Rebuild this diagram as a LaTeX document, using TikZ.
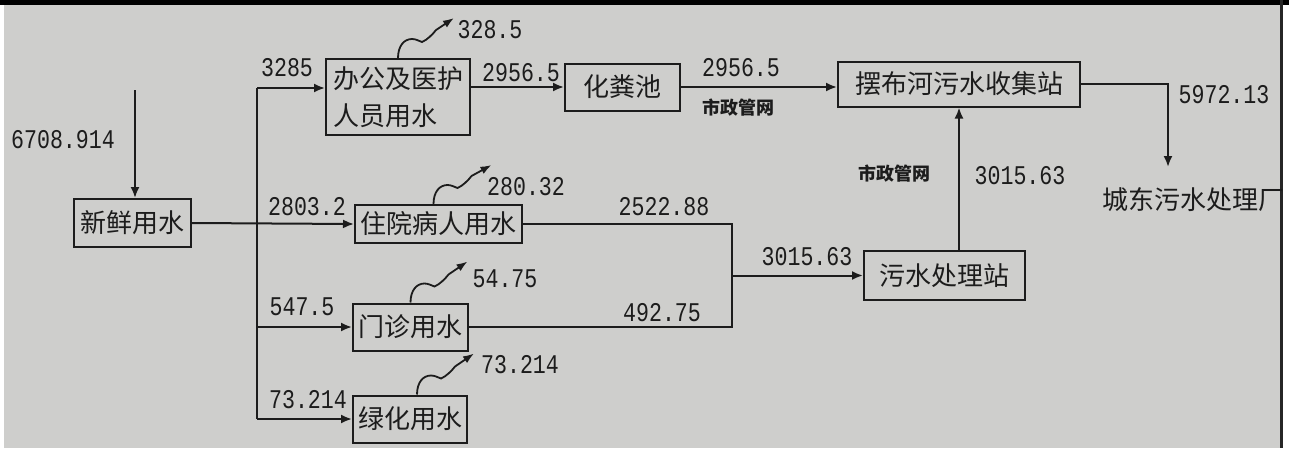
\documentclass[tikz,border=0pt]{standalone}
\usepackage{fontspec}
\newfontfamily\cjk{Noto Sans CJK SC}
\newfontfamily\numfont[FakeStretch=0.8]{Liberation Mono}
\usetikzlibrary{arrows.meta,calc}
\definecolor{paper}{RGB}{206,206,204}
\definecolor{ink}{RGB}{28,28,28}
\begin{document}
\begin{tikzpicture}[x=1pt,y=-1pt,
  box/.style={draw=ink,line width=2pt,inner sep=0pt,text=ink,font=\cjk\fontsize{26}{30}\selectfont},
  plain/.style={inner sep=0pt,text=ink,font=\cjk\fontsize{26}{30}\selectfont},
  num/.style={inner sep=0pt,text=ink,font=\numfont\fontsize{27}{30}\selectfont},
  net/.style={inner sep=0pt,text=ink,font=\cjk\bfseries\fontsize{18}{20}\selectfont},
  flow/.style={draw=ink,line width=2pt,-{Latex[length=11pt,width=9pt]}},
  pipe/.style={draw=ink,line width=2pt},
  wav/.style={draw=ink,line width=1.8pt,-{Latex[length=11pt,width=8pt]}},
]
\useasboundingbox (0,0) rectangle (1289,448);
\fill[white] (0,0) rectangle (1289,448);
\fill[paper] (4,5) rectangle (1281,448);
\fill[black] (0,0) rectangle (1289,5);
\fill[black!85] (1280,0) rectangle (1283,448);

% boxes
\node[box,minimum width=117pt,minimum height=48pt] (fresh) at (132.5,223) {新鲜用水};
\node[box,minimum width=144pt,minimum height=76pt,align=left,font=\cjk\fontsize{26}{37}\selectfont] (office) at (398,97) {办公及医护\\人员用水};
\node[box,minimum width=115pt,minimum height=47pt] (septic) at (622.5,87) {化粪池};
\node[box,minimum width=242pt,minimum height=45pt] (collect) at (959,84) {摆布河污水收集站};
\node[box,minimum width=167pt,minimum height=38pt] (inpatient) at (438.5,224) {住院病人用水};
\node[box,minimum width=115pt,minimum height=47pt] (outpatient) at (410.5,327) {门诊用水};
\node[box,minimum width=114pt,minimum height=47pt] (green) at (410,419) {绿化用水};
\node[box,minimum width=161pt,minimum height=49pt] (treat) at (944.5,275.5) {污水处理站};
\node[plain] (plant) at (1193,200) {城东污水处理厂};

% connectors
\coordinate (src) at (135,90);
\draw[flow] (src) -- (src |- fresh.north);
\coordinate (ttop) at (257,88);
\coordinate (tmid) at (257,327);
\coordinate (tbot) at (257,419);
\draw[pipe] (ttop) -- (tbot);
\draw[flow] (ttop) -- (ttop -| office.west);
\draw[flow] (fresh.east) -- (inpatient.west);
\draw[flow] (tmid) -- (outpatient.west);
\draw[flow] (tbot) -- (green.west);
\draw[flow] (septic.west -| office.east) -- (septic.west);
\draw[flow] (septic.east) -- (septic.east -| collect.west);
\coordinate (pdrop) at (1168,167);
\draw[flow] (collect.east) -| (pdrop);
\draw[flow] (collect.south |- treat.north) -- (collect.south);
\coordinate (join) at (732,275.5);
\draw[pipe,line join=miter] (inpatient.east) -| (join) |- (outpatient.east);
\draw[flow] (join) -- (treat.west);

% evaporation / loss squiggles
\draw[wav] (office.north) .. controls +(0,-12) and +(-8,0) .. ++(14,-19) .. controls +(4,0) and +(-3,-1) .. ++(10,3) .. controls +(5,-2) and +(-3,4) .. ++(14,-12) -- ++(18,-12);
\draw[wav] ([xshift=-5pt]inpatient.north) .. controls +(0,-12) and +(-8,0) .. ++(14,-19) .. controls +(4,0) and +(-3,-1) .. ++(10,3) .. controls +(5,-2) and +(-3,4) .. ++(14,-12) -- ++(20,-11);
\draw[wav] (outpatient.north) .. controls +(0,-12) and +(-8,0) .. ++(14,-19) .. controls +(4,0) and +(-3,-1) .. ++(10,3) .. controls +(5,-2) and +(-3,4) .. ++(14,-12) -- ++(19,-13);
\draw[wav] ([xshift=7pt]green.north) .. controls +(0,-12) and +(-8,0) .. ++(14,-19) .. controls +(4,0) and +(-3,-1) .. ++(10,3) .. controls +(5,-2) and +(-3,4) .. ++(14,-12) -- ++(19,-13);

% labels
\node[num] (lin) at (63,140) {6708.914};
\node[num] (l3285) at (287,68) {3285};
\node[num] (l2803) at (307,207) {2803.2};
\node[num] (l547) at (302,307) {547.5};
\node[num] (l73a) at (308,400) {73.214};
\node[num] (l328) at (490,30) {328.5};
\node[num] (l2956a) at (521,73) {2956.5};
\node[num] (l2956b) at (741,68) {2956.5};
\node[net] (neta) at (738,108) {市政管网};
\node[num] (l280) at (526,187) {280.32};
\node[num] (l2522) at (664,207) {2522.88};
\node[num] (l54) at (505,279) {54.75};
\node[num] (l492) at (662,313) {492.75};
\node[num] (l73b) at (520,365) {73.214};
\node[num] (l3015a) at (807,257) {3015.63};
\node[net] (netb) at (894,174) {市政管网};
\node[num] (l3015b) at (1020,176) {3015.63};
\node[num] (l5972) at (1224,95) {5972.13};
\end{tikzpicture}
\end{document}
